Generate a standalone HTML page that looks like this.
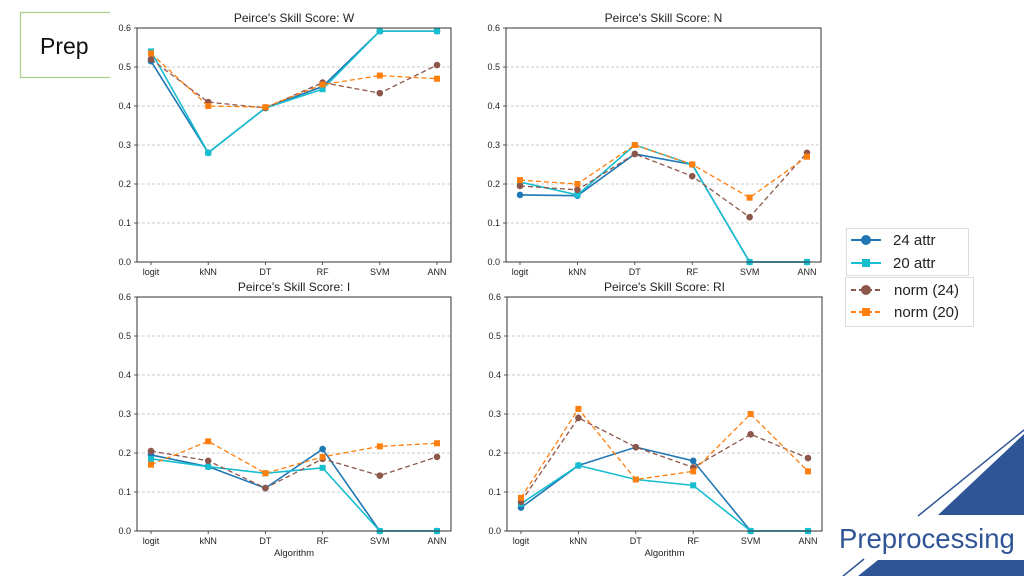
<!DOCTYPE html>
<html><head><meta charset="utf-8"><style>
body{margin:0;width:1024px;height:576px;background:#fff;overflow:hidden;position:relative;font-family:"Liberation Sans",sans-serif}
svg{position:absolute;left:0;top:0}
</style></head><body>
<svg id="s" width="1024" height="576" xmlns="http://www.w3.org/2000/svg">
<polygon points="938,515 1024,434 1024,515" fill="#2f5597"/>
<line x1="918" y1="516" x2="1024" y2="430" stroke="#2f5597" stroke-width="1.5"/>
<polygon points="858,576 878,560 1024,560 1024,576" fill="#2f5597"/>
<line x1="842" y1="577" x2="864" y2="559" stroke="#2f5597" stroke-width="1.5"/>
<text x="839" y="548" font-size="27.5" fill="#2f5597" font-family="Liberation Sans, sans-serif">Preprocessing</text>
<polyline points="110,12.5 20.5,12.5 20.5,77.5 110,77.5" fill="none" stroke="#a9d18e" stroke-width="1.3"/>
<text x="40" y="54" font-size="23" fill="#111">Prep</text>
</svg>
<script>
const s=document.getElementById('s');let h='';
const P=[
{t:"Peirce's Skill Score: W",x0:137,x1:451,y0:28,y1:262,d:[[.515,.28,.395,.45,.592,.592],[.54,.28,.395,.443,.592,.592],[.52,.41,.395,.46,.433,.505],[.535,.40,.397,.455,.478,.47]]},
{t:"Peirce's Skill Score: N",x0:506,x1:821,y0:28,y1:262,d:[[.172,.17,.277,.25,0,0],[.205,.172,.3,.25,0,0],[.195,.185,.277,.22,.115,.28],[.21,.2,.3,.25,.165,.27]]},
{t:"Peirce's Skill Score: I",x0:137,x1:451,y0:297,y1:531,x:1,d:[[.195,.165,.11,.21,0,0],[.185,.165,.148,.162,0,0],[.205,.18,.11,.185,.142,.19],[.17,.23,.148,.19,.217,.225]]},
{t:"Peirce's Skill Score: RI",x0:507,x1:822,y0:297,y1:531,x:1,d:[[.06,.168,.215,.18,0,0],[.07,.168,.132,.117,0,0],[.075,.29,.215,.163,.248,.187],[.085,.313,.132,.153,.3,.153]]}];
const C=['#1f77b4','#17becf','#8c564b','#ff7f0e'],L=['logit','kNN','DT','RF','SVM','ANN'];
for(const p of P){const W=p.x1-p.x0,H=p.y1-p.y0;
h+=`<rect x="${p.x0}" y="${p.y0}" width="${W}" height="${H}" fill="#fff"/>`;
for(let i=0;i<=6;i++){const y=p.y1-H*i/6;if(i>0&&i<6)h+=`<line x1="${p.x0}" x2="${p.x1}" y1="${y}" y2="${y}" stroke="#bbb" stroke-width="0.7" stroke-dasharray="3,2"/>`;
h+=`<line x1="${p.x0-3}" x2="${p.x0}" y1="${y}" y2="${y}" stroke="#333" stroke-width="0.8"/><text x="${p.x0-6}" y="${y+3}" font-size="9" text-anchor="end" fill="#222">${(i/10).toFixed(1)}</text>`;}
const xs=i=>p.x0+14+i*(W-28)/5;
L.forEach((l,i)=>{h+=`<line x1="${xs(i)}" x2="${xs(i)}" y1="${p.y1}" y2="${p.y1+3}" stroke="#333" stroke-width="0.8"/><text x="${xs(i)}" y="${p.y1+13}" font-size="9" text-anchor="middle" fill="#222">${l}</text>`});
if(p.x)h+=`<text x="${(p.x0+p.x1)/2}" y="${p.y1+25}" font-size="9.5" text-anchor="middle" fill="#222">Algorithm</text>`;
h+=`<text x="${(p.x0+p.x1)/2}" y="${p.y0-6}" font-size="12" text-anchor="middle" fill="#222">${p.t}</text>`;
p.d.forEach((d,k)=>{const pts=d.map((v,i)=>[xs(i),p.y1-v/0.6*H]);
h+=`<polyline points="${pts.map(q=>q.join(',')).join(' ')}" fill="none" stroke="${C[k]}" stroke-width="${k<2?1.6:1.3}" ${k>1?'stroke-dasharray="5,3"':''}/>`;
pts.forEach(q=>{h+=(k%2==0)?`<circle cx="${q[0]}" cy="${q[1]}" r="3.3" fill="${C[k]}"/>`:`<rect x="${q[0]-3}" y="${q[1]-3}" width="6" height="6" fill="${C[k]}"/>`});});
h+=`<rect x="${p.x0}" y="${p.y0}" width="${W}" height="${H}" fill="none" stroke="#333" stroke-width="1"/>`;}
h+=`<rect x="846.5" y="228.5" width="122" height="47" fill="#fff" stroke="#ddd"/><rect x="845.5" y="277.5" width="128" height="49" fill="#fff" stroke="#ddd"/>`;
const LE=[['24 attr',240,0],['20 attr',263,1],['norm (24)',290,2],['norm (20)',312,3]];
for(const [t,y,k] of LE){const d=k>1?'stroke-dasharray="5,3"':'';
h+=`<line x1="851" x2="881" y1="${y}" y2="${y}" stroke="${C[k]}" stroke-width="2" ${d}/>`;
h+=(k%2==0)?`<circle cx="866" cy="${y}" r="5" fill="${C[k]}"/>`:`<rect x="862" y="${y-4}" width="8" height="8" fill="${C[k]}"/>`;
h+=`<text x="${k>1?894:893}" y="${y+5}" font-size="15" fill="#222">${t}</text>`;}
s.insertAdjacentHTML('beforeend',h);
</script>
</body></html>
